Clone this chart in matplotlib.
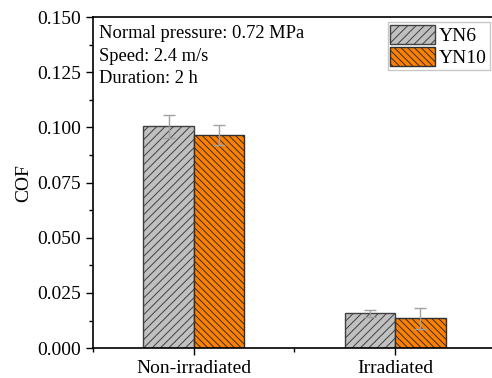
import numpy as np
import matplotlib
matplotlib.use('Agg')
import matplotlib.pyplot as plt
from matplotlib.ticker import MultipleLocator

plt.rcParams['font.family'] = ['Liberation Serif', 'DejaVu Serif']
plt.rcParams['hatch.linewidth'] = 0.7

categories = ['Non-irradiated', 'Irradiated']
series = ['YN6', 'YN10']
yn6 = [0.1005, 0.0157]
yn6_err = [0.0053, 0.0014]
yn10 = [0.0966, 0.0135]
yn10_err = [0.0044, 0.0049]

fig = plt.figure(figsize=(4.92, 3.78), dpi=100)
ax = fig.add_axes([0.189, 0.079, 0.819, 0.876])

x = np.arange(1, len(categories) + 1)
w = 0.25
ax.bar(x - w / 2, yn6, w, color='#c0c0c0', edgecolor='#404040', hatch='////',
       linewidth=1, label=series[0])
ax.bar(x + w / 2, yn10, w, color='#ff8000', edgecolor='#303030', hatch='\\' * 5,
       linewidth=1, label=series[1])
ax.errorbar(x - w / 2, yn6, yerr=yn6_err, fmt='none', ecolor='#a0a0a0',
            elinewidth=1, capsize=4, capthick=1)
ax.errorbar(x + w / 2, yn10, yerr=yn10_err, fmt='none', ecolor='#a0a0a0',
            elinewidth=1, capsize=4, capthick=1)

ax.set_xlim(0.5, 2.5)
ax.set_ylim(0, 0.15)
ax.set_xticks(x)
ax.set_xticklabels(categories, fontsize=14)
ax.xaxis.set_minor_locator(MultipleLocator(0.5))
ax.yaxis.set_major_locator(MultipleLocator(0.025))
ax.yaxis.set_minor_locator(MultipleLocator(0.0125))
ax.yaxis.set_major_formatter(matplotlib.ticker.FormatStrFormatter('%.3f'))
ax.tick_params(axis='y', labelsize=14)
ax.tick_params(which='major', direction='out', length=5, width=1)
ax.tick_params(which='minor', direction='out', length=3, width=1)
ax.set_ylabel('COF', fontsize=14, labelpad=4)
for s in ax.spines.values():
    s.set_linewidth(1.2)

ax.text(0.015, 0.975, 'Normal pressure: 0.72 MPa\nSpeed: 2.4 m/s\nDuration: 2 h',
        transform=ax.transAxes, ha='left', va='top', fontsize=13.3, linespacing=1.42)

leg = ax.legend(loc='upper right', bbox_to_anchor=(0.985, 0.985), fontsize=14,
                handlelength=2.3, handleheight=1.15, labelspacing=0.1,
                handletextpad=0.2, borderpad=0.15, borderaxespad=0,
                fancybox=False, edgecolor='#c8c8c8', framealpha=1)
leg.get_frame().set_linewidth(1)

fig.savefig('out.png', dpi=100)
